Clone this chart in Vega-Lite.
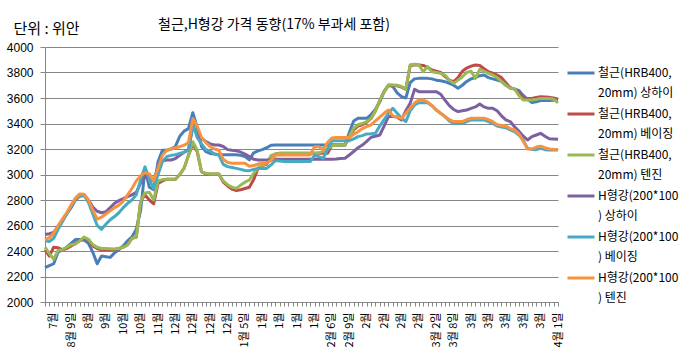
{
"$schema":"https://vega.github.io/schema/vega-lite/v6.json",
"width":513,"height":255,
"autosize":{"type":"none"},
"padding":{"left":45,"top":47,"right":140,"bottom":55},
"background":"white",
"title":{"text":"철근,H형강 가격 동향(17% 부과세 포함)","anchor":"start","frame":"group","dx":113,"offset":-11,"font":"Noto Sans CJK KR","fontSize":14,"fontWeight":"normal","color":"#000"},
"data":{"values":[
{"s":"철근 상하이","i":0,"v":2270},{"s":"철근 상하이","i":1,"v":2285},{"s":"철근 상하이","i":2,"v":2300},{"s":"철근 상하이","i":3,"v":2390},{"s":"철근 상하이","i":4,"v":2410},{"s":"철근 상하이","i":5,"v":2430},{"s":"철근 상하이","i":6,"v":2460},{"s":"철근 상하이","i":7,"v":2490},{"s":"철근 상하이","i":8,"v":2490},{"s":"철근 상하이","i":9,"v":2485},
{"s":"철근 상하이","i":10,"v":2460},{"s":"철근 상하이","i":11,"v":2390},{"s":"철근 상하이","i":12,"v":2300},{"s":"철근 상하이","i":13,"v":2360},{"s":"철근 상하이","i":14,"v":2355},{"s":"철근 상하이","i":15,"v":2350},{"s":"철근 상하이","i":16,"v":2385},{"s":"철근 상하이","i":17,"v":2410},{"s":"철근 상하이","i":18,"v":2440},{"s":"철근 상하이","i":19,"v":2480},
{"s":"철근 상하이","i":20,"v":2510},{"s":"철근 상하이","i":21,"v":2570},{"s":"철근 상하이","i":22,"v":2720},{"s":"철근 상하이","i":23,"v":3040},{"s":"철근 상하이","i":24,"v":2900},{"s":"철근 상하이","i":25,"v":2880},{"s":"철근 상하이","i":26,"v":3100},{"s":"철근 상하이","i":27,"v":3190},{"s":"철근 상하이","i":28,"v":3190},{"s":"철근 상하이","i":29,"v":3200},
{"s":"철근 상하이","i":30,"v":3220},{"s":"철근 상하이","i":31,"v":3300},{"s":"철근 상하이","i":32,"v":3340},{"s":"철근 상하이","i":33,"v":3360},{"s":"철근 상하이","i":34,"v":3485},{"s":"철근 상하이","i":35,"v":3370},{"s":"철근 상하이","i":36,"v":3220},{"s":"철근 상하이","i":37,"v":3180},{"s":"철근 상하이","i":38,"v":3165},{"s":"철근 상하이","i":39,"v":3160},
{"s":"철근 상하이","i":40,"v":3155},{"s":"철근 상하이","i":41,"v":3155},{"s":"철근 상하이","i":42,"v":3155},{"s":"철근 상하이","i":43,"v":3155},{"s":"철근 상하이","i":44,"v":3155},{"s":"철근 상하이","i":45,"v":3150},{"s":"철근 상하이","i":46,"v":3140},{"s":"철근 상하이","i":47,"v":3115},{"s":"철근 상하이","i":48,"v":3170},{"s":"철근 상하이","i":49,"v":3185},
{"s":"철근 상하이","i":50,"v":3195},{"s":"철근 상하이","i":51,"v":3210},{"s":"철근 상하이","i":52,"v":3230},{"s":"철근 상하이","i":53,"v":3231},{"s":"철근 상하이","i":54,"v":3231},{"s":"철근 상하이","i":55,"v":3231},{"s":"철근 상하이","i":56,"v":3231},{"s":"철근 상하이","i":57,"v":3231},{"s":"철근 상하이","i":58,"v":3231},{"s":"철근 상하이","i":59,"v":3231},
{"s":"철근 상하이","i":60,"v":3231},{"s":"철근 상하이","i":61,"v":3231},{"s":"철근 상하이","i":62,"v":3231},{"s":"철근 상하이","i":63,"v":3231},{"s":"철근 상하이","i":64,"v":3231},{"s":"철근 상하이","i":65,"v":3231},{"s":"철근 상하이","i":66,"v":3231},{"s":"철근 상하이","i":67,"v":3231},{"s":"철근 상하이","i":68,"v":3231},{"s":"철근 상하이","i":69,"v":3231},
{"s":"철근 상하이","i":70,"v":3330},{"s":"철근 상하이","i":71,"v":3420},{"s":"철근 상하이","i":72,"v":3441},{"s":"철근 상하이","i":73,"v":3441},{"s":"철근 상하이","i":74,"v":3441},{"s":"철근 상하이","i":75,"v":3470},{"s":"철근 상하이","i":76,"v":3510},{"s":"철근 상하이","i":77,"v":3570},{"s":"철근 상하이","i":78,"v":3650},{"s":"철근 상하이","i":79,"v":3700},
{"s":"철근 상하이","i":80,"v":3690},{"s":"철근 상하이","i":81,"v":3640},{"s":"철근 상하이","i":82,"v":3610},{"s":"철근 상하이","i":83,"v":3600},{"s":"철근 상하이","i":84,"v":3720},{"s":"철근 상하이","i":85,"v":3750},{"s":"철근 상하이","i":86,"v":3754},{"s":"철근 상하이","i":87,"v":3754},{"s":"철근 상하이","i":88,"v":3754},{"s":"철근 상하이","i":89,"v":3750},
{"s":"철근 상하이","i":90,"v":3740},{"s":"철근 상하이","i":91,"v":3735},{"s":"철근 상하이","i":92,"v":3728},{"s":"철근 상하이","i":93,"v":3715},{"s":"철근 상하이","i":94,"v":3700},{"s":"철근 상하이","i":95,"v":3676},{"s":"철근 상하이","i":96,"v":3700},{"s":"철근 상하이","i":97,"v":3730},{"s":"철근 상하이","i":98,"v":3750},{"s":"철근 상하이","i":99,"v":3760},
{"s":"철근 상하이","i":100,"v":3775},{"s":"철근 상하이","i":101,"v":3780},{"s":"철근 상하이","i":102,"v":3760},{"s":"철근 상하이","i":103,"v":3750},{"s":"철근 상하이","i":104,"v":3741},{"s":"철근 상하이","i":105,"v":3730},{"s":"철근 상하이","i":106,"v":3700},{"s":"철근 상하이","i":107,"v":3680},{"s":"철근 상하이","i":108,"v":3670},{"s":"철근 상하이","i":109,"v":3660},
{"s":"철근 상하이","i":110,"v":3620},{"s":"철근 상하이","i":111,"v":3590},{"s":"철근 상하이","i":112,"v":3565},{"s":"철근 상하이","i":113,"v":3570},{"s":"철근 상하이","i":114,"v":3580},{"s":"철근 상하이","i":115,"v":3580},{"s":"철근 상하이","i":116,"v":3580},{"s":"철근 상하이","i":117,"v":3582},{"s":"철근 상하이","i":118,"v":3584},
{"s":"철근 베이징","i":0,"v":2410},{"s":"철근 베이징","i":1,"v":2360},{"s":"철근 베이징","i":2,"v":2430},{"s":"철근 베이징","i":3,"v":2425},{"s":"철근 베이징","i":4,"v":2410},{"s":"철근 베이징","i":5,"v":2420},{"s":"철근 베이징","i":6,"v":2440},{"s":"철근 베이징","i":7,"v":2460},{"s":"철근 베이징","i":8,"v":2480},{"s":"철근 베이징","i":9,"v":2500},
{"s":"철근 베이징","i":10,"v":2490},{"s":"철근 베이징","i":11,"v":2440},{"s":"철근 베이징","i":12,"v":2420},{"s":"철근 베이징","i":13,"v":2410},{"s":"철근 베이징","i":14,"v":2410},{"s":"철근 베이징","i":15,"v":2410},{"s":"철근 베이징","i":16,"v":2412},{"s":"철근 베이징","i":17,"v":2420},{"s":"철근 베이징","i":18,"v":2430},{"s":"철근 베이징","i":19,"v":2450},
{"s":"철근 베이징","i":20,"v":2500},{"s":"철근 베이징","i":21,"v":2510},{"s":"철근 베이징","i":22,"v":2790},{"s":"철근 베이징","i":23,"v":2840},{"s":"철근 베이징","i":24,"v":2800},{"s":"철근 베이징","i":25,"v":2770},{"s":"철근 베이징","i":26,"v":2930},{"s":"철근 베이징","i":27,"v":2950},{"s":"철근 베이징","i":28,"v":2962},{"s":"철근 베이징","i":29,"v":2962},
{"s":"철근 베이징","i":30,"v":2962},{"s":"철근 베이징","i":31,"v":3000},{"s":"철근 베이징","i":32,"v":3050},{"s":"철근 베이징","i":33,"v":3150},{"s":"철근 베이징","i":34,"v":3240},{"s":"철근 베이징","i":35,"v":3180},{"s":"철근 베이징","i":36,"v":3022},{"s":"철근 베이징","i":37,"v":3004},{"s":"철근 베이징","i":38,"v":3004},{"s":"철근 베이징","i":39,"v":3004},
{"s":"철근 베이징","i":40,"v":3004},{"s":"철근 베이징","i":41,"v":2940},{"s":"철근 베이징","i":42,"v":2910},{"s":"철근 베이징","i":43,"v":2885},{"s":"철근 베이징","i":44,"v":2875},{"s":"철근 베이징","i":45,"v":2880},{"s":"철근 베이징","i":46,"v":2890},{"s":"철근 베이징","i":47,"v":2900},{"s":"철근 베이징","i":48,"v":2960},{"s":"철근 베이징","i":49,"v":3050},
{"s":"철근 베이징","i":50,"v":3070},{"s":"철근 베이징","i":51,"v":3080},{"s":"철근 베이징","i":52,"v":3140},{"s":"철근 베이징","i":53,"v":3160},{"s":"철근 베이징","i":54,"v":3166},{"s":"철근 베이징","i":55,"v":3166},{"s":"철근 베이징","i":56,"v":3166},{"s":"철근 베이징","i":57,"v":3166},{"s":"철근 베이징","i":58,"v":3166},{"s":"철근 베이징","i":59,"v":3166},
{"s":"철근 베이징","i":60,"v":3166},{"s":"철근 베이징","i":61,"v":3166},{"s":"철근 베이징","i":62,"v":3166},{"s":"철근 베이징","i":63,"v":3166},{"s":"철근 베이징","i":64,"v":3166},{"s":"철근 베이징","i":65,"v":3166},{"s":"철근 베이징","i":66,"v":3231},{"s":"철근 베이징","i":67,"v":3231},{"s":"철근 베이징","i":68,"v":3231},{"s":"철근 베이징","i":69,"v":3231},
{"s":"철근 베이징","i":70,"v":3290},{"s":"철근 베이징","i":71,"v":3350},{"s":"철근 베이징","i":72,"v":3380},{"s":"철근 베이징","i":73,"v":3390},{"s":"철근 베이징","i":74,"v":3410},{"s":"철근 베이징","i":75,"v":3440},{"s":"철근 베이징","i":76,"v":3500},{"s":"철근 베이징","i":77,"v":3580},{"s":"철근 베이징","i":78,"v":3650},{"s":"철근 베이징","i":79,"v":3700},
{"s":"철근 베이징","i":80,"v":3700},{"s":"철근 베이징","i":81,"v":3695},{"s":"철근 베이징","i":82,"v":3685},{"s":"철근 베이징","i":83,"v":3668},{"s":"철근 베이징","i":84,"v":3855},{"s":"철근 베이징","i":85,"v":3858},{"s":"철근 베이징","i":86,"v":3858},{"s":"철근 베이징","i":87,"v":3855},{"s":"철근 베이징","i":88,"v":3840},{"s":"철근 베이징","i":89,"v":3820},
{"s":"철근 베이징","i":90,"v":3810},{"s":"철근 베이징","i":91,"v":3800},{"s":"철근 베이징","i":92,"v":3770},{"s":"철근 베이징","i":93,"v":3740},{"s":"철근 베이징","i":94,"v":3728},{"s":"철근 베이징","i":95,"v":3760},{"s":"철근 베이징","i":96,"v":3810},{"s":"철근 베이징","i":97,"v":3835},{"s":"철근 베이징","i":98,"v":3850},{"s":"철근 베이징","i":99,"v":3859},
{"s":"철근 베이징","i":100,"v":3855},{"s":"철근 베이징","i":101,"v":3830},{"s":"철근 베이징","i":102,"v":3806},{"s":"철근 베이징","i":103,"v":3795},{"s":"철근 베이징","i":104,"v":3780},{"s":"철근 베이징","i":105,"v":3760},{"s":"철근 베이징","i":106,"v":3720},{"s":"철근 베이징","i":107,"v":3680},{"s":"철근 베이징","i":108,"v":3670},{"s":"철근 베이징","i":109,"v":3640},
{"s":"철근 베이징","i":110,"v":3600},{"s":"철근 베이징","i":111,"v":3597},{"s":"철근 베이징","i":112,"v":3597},{"s":"철근 베이징","i":113,"v":3605},{"s":"철근 베이징","i":114,"v":3610},{"s":"철근 베이징","i":115,"v":3608},{"s":"철근 베이징","i":116,"v":3605},{"s":"철근 베이징","i":117,"v":3600},{"s":"철근 베이징","i":118,"v":3590},
{"s":"철근 텐진","i":0,"v":2430},{"s":"철근 텐진","i":1,"v":2380},{"s":"철근 텐진","i":2,"v":2335},{"s":"철근 텐진","i":3,"v":2405},{"s":"철근 텐진","i":4,"v":2410},{"s":"철근 텐진","i":5,"v":2430},{"s":"철근 텐진","i":6,"v":2450},{"s":"철근 텐진","i":7,"v":2455},{"s":"철근 텐진","i":8,"v":2480},{"s":"철근 텐진","i":9,"v":2510},
{"s":"철근 텐진","i":10,"v":2490},{"s":"철근 텐진","i":11,"v":2450},{"s":"철근 텐진","i":12,"v":2430},{"s":"철근 텐진","i":13,"v":2420},{"s":"철근 텐진","i":14,"v":2420},{"s":"철근 텐진","i":15,"v":2418},{"s":"철근 텐진","i":16,"v":2416},{"s":"철근 텐진","i":17,"v":2420},{"s":"철근 텐진","i":18,"v":2430},{"s":"철근 텐진","i":19,"v":2447},
{"s":"철근 텐진","i":20,"v":2500},{"s":"철근 텐진","i":21,"v":2510},{"s":"철근 텐진","i":22,"v":2790},{"s":"철근 텐진","i":23,"v":2855},{"s":"철근 텐진","i":24,"v":2860},{"s":"철근 텐진","i":25,"v":2800},{"s":"철근 텐진","i":26,"v":2950},{"s":"철근 텐진","i":27,"v":2960},{"s":"철근 텐진","i":28,"v":2962},{"s":"철근 텐진","i":29,"v":2962},
{"s":"철근 텐진","i":30,"v":2962},{"s":"철근 텐진","i":31,"v":3000},{"s":"철근 텐진","i":32,"v":3050},{"s":"철근 텐진","i":33,"v":3150},{"s":"철근 텐진","i":34,"v":3257},{"s":"철근 텐진","i":35,"v":3192},{"s":"철근 텐진","i":36,"v":3022},{"s":"철근 텐진","i":37,"v":3010},{"s":"철근 텐진","i":38,"v":3004},{"s":"철근 텐진","i":39,"v":3004},
{"s":"철근 텐진","i":40,"v":3004},{"s":"철근 텐진","i":41,"v":2950},{"s":"철근 텐진","i":42,"v":2920},{"s":"철근 텐진","i":43,"v":2900},{"s":"철근 텐진","i":44,"v":2891},{"s":"철근 텐진","i":45,"v":2917},{"s":"철근 텐진","i":46,"v":2940},{"s":"철근 텐진","i":47,"v":2957},{"s":"철근 텐진","i":48,"v":3010},{"s":"철근 텐진","i":49,"v":3050},
{"s":"철근 텐진","i":50,"v":3070},{"s":"철근 텐진","i":51,"v":3088},{"s":"철근 텐진","i":52,"v":3150},{"s":"철근 텐진","i":53,"v":3160},{"s":"철근 텐진","i":54,"v":3166},{"s":"철근 텐진","i":55,"v":3166},{"s":"철근 텐진","i":56,"v":3166},{"s":"철근 텐진","i":57,"v":3166},{"s":"철근 텐진","i":58,"v":3166},{"s":"철근 텐진","i":59,"v":3166},
{"s":"철근 텐진","i":60,"v":3166},{"s":"철근 텐진","i":61,"v":3166},{"s":"철근 텐진","i":62,"v":3166},{"s":"철근 텐진","i":63,"v":3170},{"s":"철근 텐진","i":64,"v":3180},{"s":"철근 텐진","i":65,"v":3200},{"s":"철근 텐진","i":66,"v":3225},{"s":"철근 텐진","i":67,"v":3230},{"s":"철근 텐진","i":68,"v":3231},{"s":"철근 텐진","i":69,"v":3231},
{"s":"철근 텐진","i":70,"v":3300},{"s":"철근 텐진","i":71,"v":3362},{"s":"철근 텐진","i":72,"v":3390},{"s":"철근 텐진","i":73,"v":3400},{"s":"철근 텐진","i":74,"v":3415},{"s":"철근 텐진","i":75,"v":3440},{"s":"철근 텐진","i":76,"v":3500},{"s":"철근 텐진","i":77,"v":3580},{"s":"철근 텐진","i":78,"v":3650},{"s":"철근 텐진","i":79,"v":3702},
{"s":"철근 텐진","i":80,"v":3702},{"s":"철근 텐진","i":81,"v":3700},{"s":"철근 텐진","i":82,"v":3690},{"s":"철근 텐진","i":83,"v":3668},{"s":"철근 텐진","i":84,"v":3860},{"s":"철근 텐진","i":85,"v":3865},{"s":"철근 텐진","i":86,"v":3860},{"s":"철근 텐진","i":87,"v":3806},{"s":"철근 텐진","i":88,"v":3846},{"s":"철근 텐진","i":89,"v":3806},
{"s":"철근 텐진","i":90,"v":3800},{"s":"철근 텐진","i":91,"v":3793},{"s":"철근 텐진","i":92,"v":3780},{"s":"철근 텐진","i":93,"v":3740},{"s":"철근 텐진","i":94,"v":3715},{"s":"철근 텐진","i":95,"v":3740},{"s":"철근 텐진","i":96,"v":3767},{"s":"철근 텐진","i":97,"v":3800},{"s":"철근 텐진","i":98,"v":3810},{"s":"철근 텐진","i":99,"v":3754},
{"s":"철근 텐진","i":100,"v":3825},{"s":"철근 텐진","i":101,"v":3810},{"s":"철근 텐진","i":102,"v":3793},{"s":"철근 텐진","i":103,"v":3780},{"s":"철근 텐진","i":104,"v":3760},{"s":"철근 텐진","i":105,"v":3730},{"s":"철근 텐진","i":106,"v":3700},{"s":"철근 텐진","i":107,"v":3676},{"s":"철근 텐진","i":108,"v":3672},{"s":"철근 텐진","i":109,"v":3620},
{"s":"철근 텐진","i":110,"v":3584},{"s":"철근 텐진","i":111,"v":3584},{"s":"철근 텐진","i":112,"v":3584},{"s":"철근 텐진","i":113,"v":3590},{"s":"철근 텐진","i":114,"v":3597},{"s":"철근 텐진","i":115,"v":3597},{"s":"철근 텐진","i":116,"v":3597},{"s":"철근 텐진","i":117,"v":3590},{"s":"철근 텐진","i":118,"v":3563},
{"s":"H형강 상하이","i":0,"v":2530},{"s":"H형강 상하이","i":1,"v":2535},{"s":"H형강 상하이","i":2,"v":2545},{"s":"H형강 상하이","i":3,"v":2590},{"s":"H형강 상하이","i":4,"v":2640},{"s":"H형강 상하이","i":5,"v":2690},{"s":"H형강 상하이","i":6,"v":2740},{"s":"H형강 상하이","i":7,"v":2800},{"s":"H형강 상하이","i":8,"v":2830},{"s":"H형강 상하이","i":9,"v":2835},
{"s":"H형강 상하이","i":10,"v":2800},{"s":"H형강 상하이","i":11,"v":2745},{"s":"H형강 상하이","i":12,"v":2712},{"s":"H형강 상하이","i":13,"v":2700},{"s":"H형강 상하이","i":14,"v":2708},{"s":"H형강 상하이","i":15,"v":2740},{"s":"H형강 상하이","i":16,"v":2774},{"s":"H형강 상하이","i":17,"v":2795},{"s":"H형강 상하이","i":18,"v":2810},{"s":"H형강 상하이","i":19,"v":2826},
{"s":"H형강 상하이","i":20,"v":2840},{"s":"H형강 상하이","i":21,"v":2860},{"s":"H형강 상하이","i":22,"v":2935},{"s":"H형강 상하이","i":23,"v":2990},{"s":"H형강 상하이","i":24,"v":2960},{"s":"H형강 상하이","i":25,"v":2950},{"s":"H형강 상하이","i":26,"v":3060},{"s":"H형강 상하이","i":27,"v":3105},{"s":"H형강 상하이","i":28,"v":3114},{"s":"H형강 상하이","i":29,"v":3114},
{"s":"H형강 상하이","i":30,"v":3125},{"s":"H형강 상하이","i":31,"v":3150},{"s":"H형강 상하이","i":32,"v":3175},{"s":"H형강 상하이","i":33,"v":3195},{"s":"H형강 상하이","i":34,"v":3375},{"s":"H형강 상하이","i":35,"v":3320},{"s":"H형강 상하이","i":36,"v":3284},{"s":"H형강 상하이","i":37,"v":3258},{"s":"H형강 상하이","i":38,"v":3240},{"s":"H형강 상하이","i":39,"v":3231},
{"s":"H형강 상하이","i":40,"v":3231},{"s":"H형강 상하이","i":41,"v":3220},{"s":"H형강 상하이","i":42,"v":3195},{"s":"H형강 상하이","i":43,"v":3190},{"s":"H형강 상하이","i":44,"v":3187},{"s":"H형강 상하이","i":45,"v":3175},{"s":"H형강 상하이","i":46,"v":3160},{"s":"H형강 상하이","i":47,"v":3140},{"s":"H형강 상하이","i":48,"v":3120},{"s":"H형강 상하이","i":49,"v":3114},
{"s":"H형강 상하이","i":50,"v":3114},{"s":"H형강 상하이","i":51,"v":3114},{"s":"H형강 상하이","i":52,"v":3114},{"s":"H형강 상하이","i":53,"v":3120},{"s":"H형강 상하이","i":54,"v":3120},{"s":"H형강 상하이","i":55,"v":3120},{"s":"H형강 상하이","i":56,"v":3120},{"s":"H형강 상하이","i":57,"v":3120},{"s":"H형강 상하이","i":58,"v":3120},{"s":"H형강 상하이","i":59,"v":3120},
{"s":"H형강 상하이","i":60,"v":3120},{"s":"H형강 상하이","i":61,"v":3120},{"s":"H형강 상하이","i":62,"v":3120},{"s":"H형강 상하이","i":63,"v":3120},{"s":"H형강 상하이","i":64,"v":3120},{"s":"H형강 상하이","i":65,"v":3120},{"s":"H형강 상하이","i":66,"v":3120},{"s":"H형강 상하이","i":67,"v":3122},{"s":"H형강 상하이","i":68,"v":3125},{"s":"H형강 상하이","i":69,"v":3127},
{"s":"H형강 상하이","i":70,"v":3153},{"s":"H형강 상하이","i":71,"v":3180},{"s":"H형강 상하이","i":72,"v":3210},{"s":"H형강 상하이","i":73,"v":3231},{"s":"H형강 상하이","i":74,"v":3260},{"s":"H형강 상하이","i":75,"v":3292},{"s":"H형강 상하이","i":76,"v":3300},{"s":"H형강 상하이","i":77,"v":3310},{"s":"H형강 상하이","i":78,"v":3380},{"s":"H형강 상하이","i":79,"v":3454},
{"s":"H형강 상하이","i":80,"v":3454},{"s":"H형강 상하이","i":81,"v":3450},{"s":"H형강 상하이","i":82,"v":3428},{"s":"H형강 상하이","i":83,"v":3500},{"s":"H형강 상하이","i":84,"v":3558},{"s":"H형강 상하이","i":85,"v":3668},{"s":"H형강 상하이","i":86,"v":3650},{"s":"H형강 상하이","i":87,"v":3650},{"s":"H형강 상하이","i":88,"v":3650},{"s":"H형강 상하이","i":89,"v":3650},
{"s":"H형강 상하이","i":90,"v":3650},{"s":"H형강 상하이","i":91,"v":3630},{"s":"H형강 상하이","i":92,"v":3584},{"s":"H형강 상하이","i":93,"v":3540},{"s":"H형강 상하이","i":94,"v":3510},{"s":"H형강 상하이","i":95,"v":3493},{"s":"H형강 상하이","i":96,"v":3500},{"s":"H형강 상하이","i":97,"v":3506},{"s":"H형강 상하이","i":98,"v":3519},{"s":"H형강 상하이","i":99,"v":3530},
{"s":"H형강 상하이","i":100,"v":3553},{"s":"H형강 상하이","i":101,"v":3530},{"s":"H형강 상하이","i":102,"v":3519},{"s":"H형강 상하이","i":103,"v":3519},{"s":"H형강 상하이","i":104,"v":3500},{"s":"H형강 상하이","i":105,"v":3460},{"s":"H형강 상하이","i":106,"v":3428},{"s":"H형강 상하이","i":107,"v":3415},{"s":"H형강 상하이","i":108,"v":3375},{"s":"H형강 상하이","i":109,"v":3340},
{"s":"H형강 상하이","i":110,"v":3300},{"s":"H형강 상하이","i":111,"v":3271},{"s":"H형강 상하이","i":112,"v":3297},{"s":"H형강 상하이","i":113,"v":3310},{"s":"H형강 상하이","i":114,"v":3323},{"s":"H형강 상하이","i":115,"v":3300},{"s":"H형강 상하이","i":116,"v":3280},{"s":"H형강 상하이","i":117,"v":3278},{"s":"H형강 상하이","i":118,"v":3276},
{"s":"H형강 베이징","i":0,"v":2480},{"s":"H형강 베이징","i":1,"v":2475},{"s":"H형강 베이징","i":2,"v":2500},{"s":"H형강 베이징","i":3,"v":2570},{"s":"H형강 베이징","i":4,"v":2630},{"s":"H형강 베이징","i":5,"v":2690},{"s":"H형강 베이징","i":6,"v":2750},{"s":"H형강 베이징","i":7,"v":2805},{"s":"H형강 베이징","i":8,"v":2835},{"s":"H형강 베이징","i":9,"v":2835},
{"s":"H형강 베이징","i":10,"v":2780},{"s":"H형강 베이징","i":11,"v":2690},{"s":"H형강 베이징","i":12,"v":2600},{"s":"H형강 베이징","i":13,"v":2570},{"s":"H형강 베이징","i":14,"v":2610},{"s":"H형강 베이징","i":15,"v":2645},{"s":"H형강 베이징","i":16,"v":2670},{"s":"H형강 베이징","i":17,"v":2700},{"s":"H형강 베이징","i":18,"v":2740},{"s":"H형강 베이징","i":19,"v":2774},
{"s":"H형강 베이징","i":20,"v":2800},{"s":"H형강 베이징","i":21,"v":2840},{"s":"H형강 베이징","i":22,"v":2960},{"s":"H형강 베이징","i":23,"v":3060},{"s":"H형강 베이징","i":24,"v":2960},{"s":"H형강 베이징","i":25,"v":2890},{"s":"H형강 베이징","i":26,"v":3000},{"s":"H형강 베이징","i":27,"v":3100},{"s":"H형강 베이징","i":28,"v":3140},{"s":"H형강 베이징","i":29,"v":3150},
{"s":"H형강 베이징","i":30,"v":3155},{"s":"H형강 베이징","i":31,"v":3165},{"s":"H형강 베이징","i":32,"v":3175},{"s":"H형강 베이징","i":33,"v":3190},{"s":"H형강 베이징","i":34,"v":3400},{"s":"H형강 베이징","i":35,"v":3290},{"s":"H형강 베이징","i":36,"v":3240},{"s":"H형강 베이징","i":37,"v":3195},{"s":"H형강 베이징","i":38,"v":3185},{"s":"H형강 베이징","i":39,"v":3160},
{"s":"H형강 베이징","i":40,"v":3153},{"s":"H형강 베이징","i":41,"v":3080},{"s":"H형강 베이징","i":42,"v":3062},{"s":"H형강 베이징","i":43,"v":3055},{"s":"H형강 베이징","i":44,"v":3048},{"s":"H형강 베이징","i":45,"v":3040},{"s":"H형강 베이징","i":46,"v":3032},{"s":"H형강 베이징","i":47,"v":3030},{"s":"H형강 베이징","i":48,"v":3040},{"s":"H형강 베이징","i":49,"v":3048},
{"s":"H형강 베이징","i":50,"v":3048},{"s":"H형강 베이징","i":51,"v":3048},{"s":"H형강 베이징","i":52,"v":3075},{"s":"H형강 베이징","i":53,"v":3110},{"s":"H형강 베이징","i":54,"v":3105},{"s":"H형강 베이징","i":55,"v":3101},{"s":"H형강 베이징","i":56,"v":3101},{"s":"H형강 베이징","i":57,"v":3101},{"s":"H형강 베이징","i":58,"v":3101},{"s":"H형강 베이징","i":59,"v":3101},
{"s":"H형강 베이징","i":60,"v":3101},{"s":"H형강 베이징","i":61,"v":3101},{"s":"H형강 베이징","i":62,"v":3150},{"s":"H형강 베이징","i":63,"v":3140},{"s":"H형강 베이징","i":64,"v":3127},{"s":"H형강 베이징","i":65,"v":3200},{"s":"H형강 베이징","i":66,"v":3265},{"s":"H형강 베이징","i":67,"v":3265},{"s":"H형강 베이징","i":68,"v":3265},{"s":"H형강 베이징","i":69,"v":3265},
{"s":"H형강 베이징","i":70,"v":3265},{"s":"H형강 베이징","i":71,"v":3280},{"s":"H형강 베이징","i":72,"v":3297},{"s":"H형강 베이징","i":73,"v":3305},{"s":"H형강 베이징","i":74,"v":3318},{"s":"H형강 베이징","i":75,"v":3320},{"s":"H형강 베이징","i":76,"v":3323},{"s":"H형강 베이징","i":77,"v":3380},{"s":"H형강 베이징","i":78,"v":3430},{"s":"H형강 베이징","i":79,"v":3480},
{"s":"H형강 베이징","i":80,"v":3519},{"s":"H형강 베이징","i":81,"v":3480},{"s":"H형강 베이징","i":82,"v":3441},{"s":"H형강 베이징","i":83,"v":3415},{"s":"H형강 베이징","i":84,"v":3500},{"s":"H형강 베이징","i":85,"v":3545},{"s":"H형강 베이징","i":86,"v":3563},{"s":"H형강 베이징","i":87,"v":3563},{"s":"H형강 베이징","i":88,"v":3563},{"s":"H형강 베이징","i":89,"v":3540},
{"s":"H형강 베이징","i":90,"v":3506},{"s":"H형강 베이징","i":91,"v":3480},{"s":"H형강 베이징","i":92,"v":3454},{"s":"H형강 베이징","i":93,"v":3420},{"s":"H형강 베이징","i":94,"v":3401},{"s":"H형강 베이징","i":95,"v":3401},{"s":"H형강 베이징","i":96,"v":3401},{"s":"H형강 베이징","i":97,"v":3415},{"s":"H형강 베이징","i":98,"v":3428},{"s":"H형강 베이징","i":99,"v":3428},
{"s":"H형강 베이징","i":100,"v":3428},{"s":"H형강 베이징","i":101,"v":3428},{"s":"H형강 베이징","i":102,"v":3415},{"s":"H형강 베이징","i":103,"v":3401},{"s":"H형강 베이징","i":104,"v":3380},{"s":"H형강 베이징","i":105,"v":3372},{"s":"H형강 베이징","i":106,"v":3367},{"s":"H형강 베이징","i":107,"v":3350},{"s":"H형강 베이징","i":108,"v":3336},{"s":"H형강 베이징","i":109,"v":3310},
{"s":"H형강 베이징","i":110,"v":3270},{"s":"H형강 베이징","i":111,"v":3205},{"s":"H형강 베이징","i":112,"v":3197},{"s":"H형강 베이징","i":113,"v":3195},{"s":"H형강 베이징","i":114,"v":3205},{"s":"H형강 베이징","i":115,"v":3195},{"s":"H형강 베이징","i":116,"v":3192},{"s":"H형강 베이징","i":117,"v":3192},{"s":"H형강 베이징","i":118,"v":3192},
{"s":"H형강 텐진","i":0,"v":2490},{"s":"H형강 텐진","i":1,"v":2505},{"s":"H형강 텐진","i":2,"v":2540},{"s":"H형강 텐진","i":3,"v":2600},{"s":"H형강 텐진","i":4,"v":2650},{"s":"H형강 텐진","i":5,"v":2700},{"s":"H형강 텐진","i":6,"v":2760},{"s":"H형강 텐진","i":7,"v":2815},{"s":"H형강 텐진","i":8,"v":2848},{"s":"H형강 텐진","i":9,"v":2845},
{"s":"H형강 텐진","i":10,"v":2800},{"s":"H형강 텐진","i":11,"v":2720},{"s":"H형강 텐진","i":12,"v":2650},{"s":"H형강 텐진","i":13,"v":2665},{"s":"H형강 텐진","i":14,"v":2690},{"s":"H형강 텐진","i":15,"v":2715},{"s":"H형강 텐진","i":16,"v":2740},{"s":"H형강 텐진","i":17,"v":2760},{"s":"H형강 텐진","i":18,"v":2790},{"s":"H형강 텐진","i":19,"v":2840},
{"s":"H형강 텐진","i":20,"v":2890},{"s":"H형강 텐진","i":21,"v":2950},{"s":"H형강 텐진","i":22,"v":2990},{"s":"H형강 텐진","i":23,"v":3014},{"s":"H형강 텐진","i":24,"v":3005},{"s":"H형강 텐진","i":25,"v":2950},{"s":"H형강 텐진","i":26,"v":3050},{"s":"H형강 텐진","i":27,"v":3150},{"s":"H형강 텐진","i":28,"v":3190},{"s":"H형강 텐진","i":29,"v":3200},
{"s":"H형강 텐진","i":30,"v":3210},{"s":"H형강 텐진","i":31,"v":3218},{"s":"H형강 텐진","i":32,"v":3230},{"s":"H형강 텐진","i":33,"v":3250},{"s":"H형강 텐진","i":34,"v":3440},{"s":"H형강 텐진","i":35,"v":3380},{"s":"H형강 텐진","i":36,"v":3290},{"s":"H형강 텐진","i":37,"v":3250},{"s":"H형강 텐진","i":38,"v":3218},{"s":"H형강 텐진","i":39,"v":3200},
{"s":"H형강 텐진","i":40,"v":3190},{"s":"H형강 텐진","i":41,"v":3120},{"s":"H형강 텐진","i":42,"v":3095},{"s":"H형강 텐진","i":43,"v":3088},{"s":"H형강 텐진","i":44,"v":3088},{"s":"H형강 텐진","i":45,"v":3088},{"s":"H형강 텐진","i":46,"v":3088},{"s":"H형강 텐진","i":47,"v":3065},{"s":"H형강 텐진","i":48,"v":3070},{"s":"H형강 텐진","i":49,"v":3082},
{"s":"H형강 텐진","i":50,"v":3088},{"s":"H형강 텐진","i":51,"v":3090},{"s":"H형강 텐진","i":52,"v":3112},{"s":"H형강 텐진","i":53,"v":3150},{"s":"H형강 텐진","i":54,"v":3153},{"s":"H형강 텐진","i":55,"v":3153},{"s":"H형강 텐진","i":56,"v":3153},{"s":"H형강 텐진","i":57,"v":3153},{"s":"H형강 텐진","i":58,"v":3153},{"s":"H형강 텐진","i":59,"v":3153},
{"s":"H형강 텐진","i":60,"v":3153},{"s":"H형강 텐진","i":61,"v":3153},{"s":"H형강 텐진","i":62,"v":3218},{"s":"H형강 텐진","i":63,"v":3218},{"s":"H형강 텐진","i":64,"v":3195},{"s":"H형강 텐진","i":65,"v":3250},{"s":"H형강 텐진","i":66,"v":3286},{"s":"H형강 텐진","i":67,"v":3290},{"s":"H형강 텐진","i":68,"v":3290},{"s":"H형강 텐진","i":69,"v":3290},
{"s":"H형강 텐진","i":70,"v":3290},{"s":"H형강 텐진","i":71,"v":3315},{"s":"H형강 텐진","i":72,"v":3336},{"s":"H형강 텐진","i":73,"v":3360},{"s":"H형강 텐진","i":74,"v":3375},{"s":"H형강 텐진","i":75,"v":3390},{"s":"H형강 텐진","i":76,"v":3420},{"s":"H형강 텐진","i":77,"v":3450},{"s":"H형강 텐진","i":78,"v":3480},{"s":"H형강 텐진","i":79,"v":3506},
{"s":"H형강 텐진","i":80,"v":3460},{"s":"H형강 텐진","i":81,"v":3450},{"s":"H형강 텐진","i":82,"v":3441},{"s":"H형강 텐진","i":83,"v":3480},{"s":"H형강 텐진","i":84,"v":3519},{"s":"H형강 텐진","i":85,"v":3560},{"s":"H형강 텐진","i":86,"v":3584},{"s":"H형강 텐진","i":87,"v":3584},{"s":"H형강 텐진","i":88,"v":3570},{"s":"H형강 텐진","i":89,"v":3540},
{"s":"H형강 텐진","i":90,"v":3505},{"s":"H형강 텐진","i":91,"v":3480},{"s":"H형강 텐진","i":92,"v":3455},{"s":"H형강 텐진","i":93,"v":3430},{"s":"H형강 텐진","i":94,"v":3415},{"s":"H형강 텐진","i":95,"v":3415},{"s":"H형강 텐진","i":96,"v":3415},{"s":"H형강 텐진","i":97,"v":3430},{"s":"H형강 텐진","i":98,"v":3441},{"s":"H형강 텐진","i":99,"v":3441},
{"s":"H형강 텐진","i":100,"v":3441},{"s":"H형강 텐진","i":101,"v":3441},{"s":"H형강 텐진","i":102,"v":3430},{"s":"H형강 텐진","i":103,"v":3415},{"s":"H형강 텐진","i":104,"v":3390},{"s":"H형강 텐진","i":105,"v":3385},{"s":"H형강 텐진","i":106,"v":3380},{"s":"H형강 텐진","i":107,"v":3360},{"s":"H형강 텐진","i":108,"v":3349},{"s":"H형강 텐진","i":109,"v":3320},
{"s":"H형강 텐진","i":110,"v":3260},{"s":"H형강 텐진","i":111,"v":3200},{"s":"H형강 텐진","i":112,"v":3200},{"s":"H형강 텐진","i":113,"v":3215},{"s":"H형강 텐진","i":114,"v":3222},{"s":"H형강 텐진","i":115,"v":3210},{"s":"H형강 텐진","i":116,"v":3200},{"s":"H형강 텐진","i":117,"v":3198},{"s":"H형강 텐진","i":118,"v":3197}
]},
"mark":{"type":"line","strokeWidth":3,"strokeJoin":"round"},
"encoding":{
"x":{"field":"i","type":"quantitative","scale":{"domain":[0,118],"nice":false,"zero":false},
 "axis":{"title":null,"grid":false,"values":[0,1,2,3,4,5,6,7,8,9,10,11,12,13,14,15,16,17,18,19,20,21,22,23,24,25,26,27,28,29,30,31,32,33,34,35,36,37,38,39,40,41,42,43,44,45,46,47,48,49,50,51,52,53,54,55,56,57,58,59,60,61,62,63,64,65,66,67,68,69,70,71,72,73,74,75,76,77,78,79,80,81,82,83,84,85,86,87,88,89,90,91,92,93,94,95,96,97,98,99,100,101,102,103,104,105,106,107,108,109,110,111,112,113,114,115,116,117,118],
 "labelExpr":"(datum.value - 2) % 4 == 0 ? ['7월','8월 9일','8월','9월','10월','10월','11월','12월','12월','12월','12월','1월 5일','1월','1월','1월','1월','2월 6일','2월 9일','2월','2월','2월','2월','3월 2일','3월 8일','3월','3월','3월','3월','3월','4월 1일'][(datum.value - 2) / 4] : ''",
 "labelAngle":-90,"labelAlign":"right","labelBaseline":"middle","labelFont":"Noto Sans CJK KR","labelFontSize":11,"labelColor":"#000","labelOverlap":false,"labelBound":false,"labelFlush":false,"labelPadding":6,"tickSize":4,"tickColor":"#868686","domainColor":"#868686"}},
"y":{"field":"v","type":"quantitative","scale":{"domain":[2000,4000],"nice":false,"zero":false},
 "axis":{"values":[2000,2200,2400,2600,2800,3000,3200,3400,3600,3800,4000],"format":"d","title":"단위 : 위안","titleAngle":0,"titleX":-32,"titleY":-14,"titleAlign":"left","titleBaseline":"alphabetic","titleFont":"Noto Sans CJK KR","titleFontSize":15,"titleFontWeight":"normal","titleColor":"#000",
 "labelFont":"Liberation Sans","labelFontSize":12,"labelColor":"#000","tickSize":5,"labelPadding":7,"grid":true,"gridColor":"#868686","tickColor":"#868686","domainColor":"#868686"}},
"color":{"field":"s","type":"nominal","sort":null,
 "scale":{"domain":["철근 상하이","철근 베이징","철근 텐진","H형강 상하이","H형강 베이징","H형강 텐진"],"range":["#4A7EBB","#BE4B48","#98B954","#7D60A0","#46AAC5","#F69240"]},
 "legend":{"orient":"none","legendX":521,"legendY":11,"title":null,"symbolType":"stroke","symbolStrokeWidth":3,"symbolSize":729,"labelFont":"Noto Sans CJK KR","labelFontSize":12,"labelColor":"#000","labelBaseline":"middle","rowPadding":-2,"labelOffset":2,"labelLimit":200,
 "encode":{"labels":{"update":{"lineHeight":{"value":20}}}},
 "labelExpr":"{'철근 상하이':['철근(HRB400,','20mm) 상하이'],'철근 베이징':['철근(HRB400,','20mm) 베이징'],'철근 텐진':['철근(HRB400,','20mm) 텐진'],'H형강 상하이':['H형강(200*100',') 상하이'],'H형강 베이징':['H형강(200*100',') 베이징'],'H형강 텐진':['H형강(200*100',') 텐진']}[datum.label]"}}
},
"config":{"view":{"stroke":null}}
}
